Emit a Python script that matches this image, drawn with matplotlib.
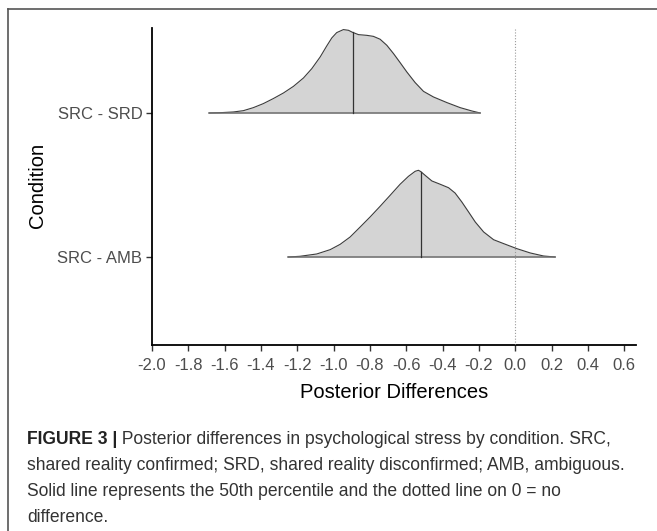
import matplotlib
matplotlib.use('Agg')
import matplotlib.pyplot as plt
import numpy as np
from matplotlib.lines import Line2D

plt.rcParams['font.family'] = ['Liberation Sans', 'DejaVu Sans']

# ---------------- data ----------------
categories = ['SRC - AMB', 'SRC - SRD']

srd_x = [-1.684, -1.625, -1.552, -1.497, -1.442, -1.387, -1.332, -1.276, -1.221, -1.166,
         -1.120, -1.074, -1.038, -1.010, -0.983, -0.946, -0.918, -0.896, -0.863, -0.817,
         -0.781, -0.744, -0.707, -0.670, -0.634, -0.597, -0.551, -0.505, -0.450, -0.376,
         -0.303, -0.239, -0.193]
srd_density = [0.000, 0.002, 0.007, 0.016, 0.037, 0.065, 0.100, 0.139, 0.185, 0.243,
               0.308, 0.389, 0.465, 0.521, 0.558, 0.579, 0.574, 0.560, 0.544, 0.539,
               0.532, 0.512, 0.470, 0.412, 0.350, 0.285, 0.211, 0.150, 0.111, 0.072,
               0.037, 0.014, 0.000]
srd_median = -0.896

amb_x = [-1.249, -1.185, -1.093, -1.019, -0.964, -0.909, -0.854, -0.799, -0.744, -0.689,
         -0.634, -0.588, -0.551, -0.533, -0.520, -0.496, -0.459, -0.413, -0.367, -0.331,
         -0.294, -0.257, -0.220, -0.174, -0.119, -0.064, 0.009, 0.083, 0.156, 0.220]
amb_density = [0.000, 0.005, 0.021, 0.051, 0.088, 0.139, 0.208, 0.278, 0.352, 0.428,
               0.505, 0.560, 0.595, 0.602, 0.593, 0.567, 0.528, 0.505, 0.481, 0.444,
               0.382, 0.313, 0.243, 0.174, 0.120, 0.093, 0.058, 0.028, 0.007, 0.000]
amb_median = -0.520

x_ticks = [-2.0, -1.8, -1.6, -1.4, -1.2, -1.0, -0.8, -0.6, -0.4, -0.2, 0.0, 0.2, 0.4, 0.6]
x_tick_labels = ['-2.0', '-1.8', '-1.6', '-1.4', '-1.2', '-1.0', '-0.8', '-0.6', '-0.4',
                 '-0.2', '0.0', '0.2', '0.4', '0.6']

caption_bold = 'FIGURE 3 |'
caption_lines = [
    ' Posterior differences in psychological stress by condition. SRC,',
    'shared reality confirmed; SRD, shared reality disconfirmed; AMB, ambiguous.',
    'Solid line represents the 50th percentile and the dotted line on 0 = no',
    'difference.',
]

# ---------------- figure ----------------
W, H = 657, 531
fig = plt.figure(figsize=(W / 100, H / 100), dpi=100)
fig.patch.set_facecolor('white')

ax = fig.add_axes([152 / W, 1 - 345 / H, (636 - 152) / W, (345 - 28) / H])

ridges = [(1, amb_x, amb_density, amb_median), (2, srd_x, srd_density, srd_median)]
for pos, xs, ds, med in ridges:
    xs = np.asarray(xs)
    ds = np.asarray(ds)
    ax.fill_between(xs, pos, pos + ds, color='#D4D4D4', lw=0, zorder=2)
    ax.plot(xs, pos + ds, color='#3c3c3c', lw=0.8, zorder=3)
    ax.plot([xs[0], xs[-1]], [pos, pos], color='#6e6e6e', lw=1.1, zorder=3)
    ax.plot([med, med], [pos, pos + np.interp(med, xs, ds)], color='#333333',
            lw=0.9, zorder=4)

ax.axvline(0.0, color='#9a9a9a', ls=(0, (1, 1.6)), lw=0.8, zorder=5)

ax.set_xlim(-2.0, 0.665)
ax.set_ylim(0.389, 2.59)
ax.set_xticks(x_ticks)
ax.set_xticklabels(x_tick_labels)
ax.set_yticks([1, 2])
ax.set_yticklabels(categories)

for s in ['top', 'right']:
    ax.spines[s].set_visible(False)
for s in ['left', 'bottom']:
    ax.spines[s].set_color('black')
    ax.spines[s].set_linewidth(1.3)

ax.tick_params(axis='both', length=4, width=1.0, color='#333333',
               labelsize=12, labelcolor='#4D4D4D')
ax.tick_params(axis='x', pad=5)
ax.tick_params(axis='y', pad=3)

fig.text(37 / W, 1 - 185 / H, 'Condition', rotation=90, fontsize=14.5,
         ha='center', va='center', color='black')
fig.text(394 / W, 1 - 392 / H, 'Posterior Differences', fontsize=14.5,
         ha='center', va='center', color='black')

# frame lines (top and left)
fig.add_artist(Line2D([8 / W, 1.0], [1 - 9 / H, 1 - 9 / H], transform=fig.transFigure,
                      color='#555555', lw=1.2))
fig.add_artist(Line2D([8 / W, 8 / W], [0.0, 1 - 9 / H], transform=fig.transFigure,
                      color='#555555', lw=1.2))

# caption
cap_size = 12.65
line_y = [438, 464, 489, 515]
renderer = fig.canvas.get_renderer()
tb = fig.text(27 / W, 1 - line_y[0] / H, caption_bold, fontsize=cap_size,
              fontweight='bold', color='#222222', ha='left', va='center_baseline')
bb = tb.get_window_extent(renderer=renderer)
fig.text(bb.x1 / W, 1 - line_y[0] / H, caption_lines[0], fontsize=cap_size,
         color='#333333', ha='left', va='center_baseline')
for y, t in zip(line_y[1:], caption_lines[1:]):
    fig.text(27 / W, 1 - y / H, t, fontsize=cap_size, color='#333333',
             ha='left', va='center_baseline')

fig.savefig('out.png', dpi=100, facecolor='white')
